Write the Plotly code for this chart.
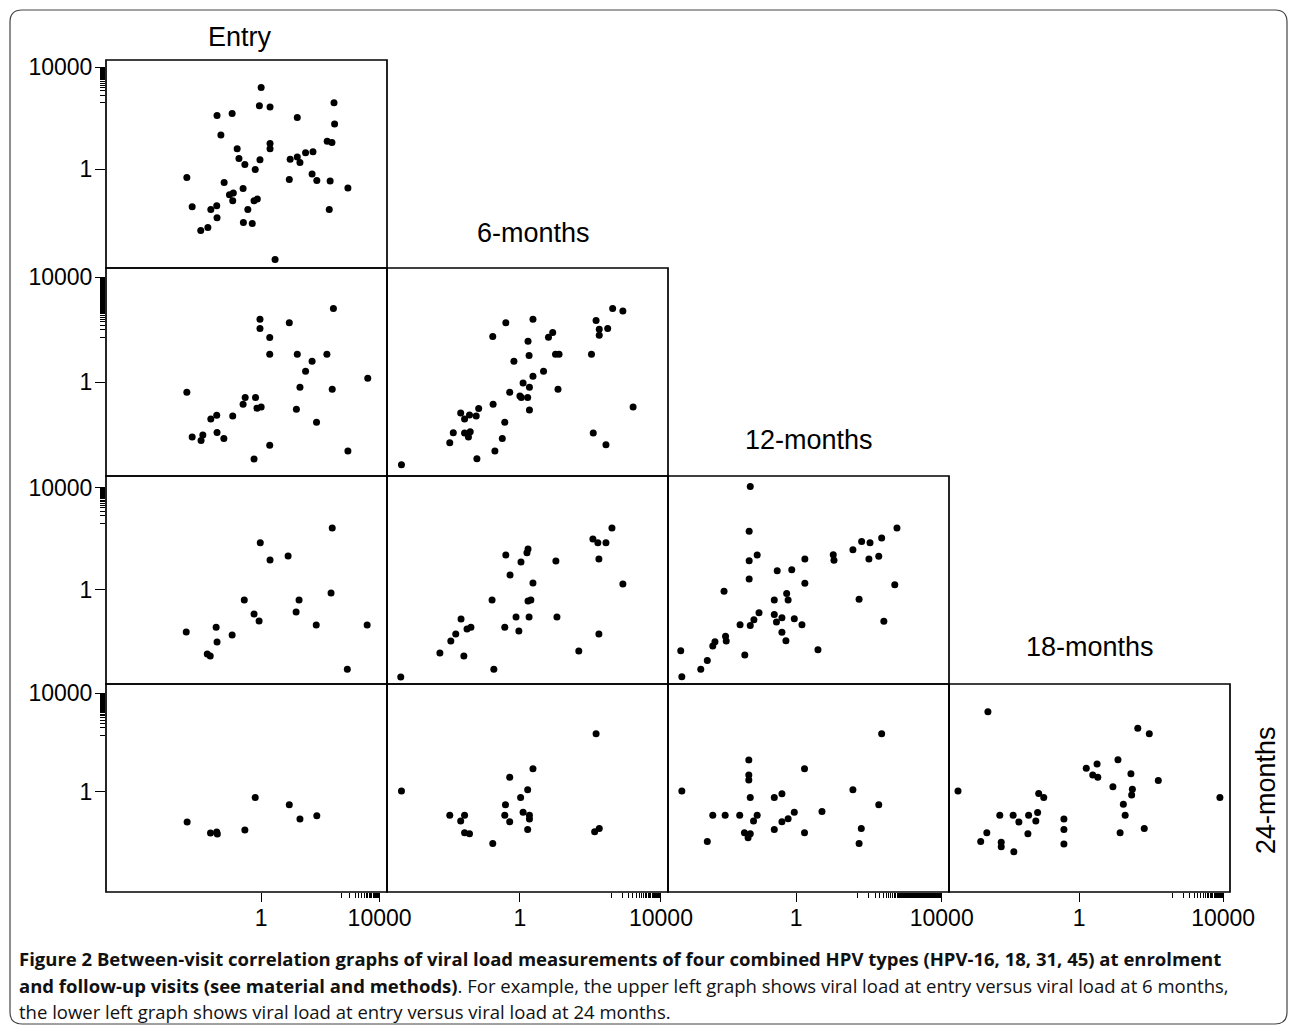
import plotly.graph_objects as go

# ---------------- data (log10 viral load) ----------------
# Each panel: x = earlier visit, y = later visit
entry_6m_x = [-2.51,-2.33,-2.04,-1.80,-1.70,-1.50,-1.49,-1.49,-1.36,-1.25,-1.07,-0.98,-0.94,-0.96,-0.81,-0.75,-0.61,-0.60,-0.55,-0.45,-0.30,-0.24,-0.20,-0.13,-0.04,0.00,-0.06,0.30,0.30,0.30,0.47,0.95,0.98,1.22,1.22,1.31,1.50,1.75,1.72,1.88,2.23,2.39,2.33,2.30,2.46,2.48,2.93]
entry_6m_y = [-0.33,-1.48,-2.42,-2.30,-1.59,-1.44,-1.91,2.11,1.34,-0.53,-1.01,2.19,-0.94,-1.25,0.80,0.42,-0.76,-2.10,0.18,-1.59,-2.14,-1.25,-0.02,-1.18,0.37,3.21,2.49,2.44,1.01,0.80,-3.56,-0.41,0.39,2.03,0.48,0.26,0.64,0.68,-0.19,-0.45,1.09,1.05,-0.47,-1.59,2.61,1.77,-0.74]

entry_12m_x = [-2.51,-2.33,-2.03,-1.97,-1.70,-1.50,-1.49,-1.26,-0.96,-0.61,-0.54,-0.24,-0.19,-0.14,0.00,-0.04,-0.04,0.29,0.29,0.29,0.95,1.22,1.31,1.19,1.50,1.72,1.87,2.22,2.40,2.44,2.93,3.60]
entry_12m_y = [-0.39,-2.10,-2.23,-2.02,-1.41,-1.27,-1.93,-2.16,-1.30,-0.85,-0.59,-2.94,-0.59,-1.00,-0.95,2.40,2.05,1.70,1.06,-2.41,2.27,1.06,-0.20,-1.04,0.41,0.80,-1.54,1.06,-0.27,2.81,-2.63,0.15]

m6_12m_x = [-3.36,-1.99,-1.89,-1.68,-1.57,-1.57,-1.46,-1.41,-1.43,-1.24,-1.17,-1.22,-0.77,-0.76,-0.71,-0.50,-0.43,-0.40,-0.29,-0.17,0.00,0.04,0.09,0.22,0.23,0.26,0.27,0.27,0.37,0.37,0.67,0.81,0.93,1.01,1.11,1.08,2.03,2.08,2.16,2.25,2.25,2.44,2.49,2.63,2.92,3.21]
m6_12m_y = [-3.16,-2.32,-1.94,-1.18,-1.41,-1.95,-2.10,-1.90,-1.26,-1.30,-1.01,-2.93,1.74,-0.85,-2.63,-2.16,-1.54,2.27,-0.39,0.80,-0.53,-0.59,-0.04,-0.59,1.56,1.02,-0.20,-1.07,0.22,2.40,0.41,1.71,1.89,1.06,1.06,-0.27,1.06,-1.95,2.35,2.02,1.79,-2.40,2.05,2.81,2.72,-0.95]

entry_18m_x = [-2.53,-1.82,-1.72,-1.52,-1.49,-0.98,-0.57,-0.24,-0.03,-0.07,0.30,0.91,1.18,1.28,1.86,2.36,2.40,2.91,3.58]
entry_18m_y = [-1.64,-2.50,-2.58,-1.45,-2.03,-1.76,-0.39,-0.94,1.84,-1.21,1.17,1.33,-0.86,-0.39,-1.37,-0.12,2.42,-3.09,-1.37]

m6_18m_x = [-3.38,-2.27,-1.96,-1.82,-1.67,-1.59,-1.50,-1.39,-0.79,-0.74,-0.43,-0.40,-0.28,-0.11,-0.03,0.03,0.20,0.23,0.23,0.26,0.31,0.37,1.02,1.05,1.67,2.07,2.21,2.24,2.24,2.44,2.61,2.92]
m6_18m_y = [-3.40,-2.46,-1.99,-1.72,-1.13,-2.58,-1.52,-1.45,-0.39,-3.09,-1.45,1.37,0.59,-1.05,-1.60,1.09,1.45,1.60,-0.43,-1.05,-0.39,0.27,1.13,-1.05,-2.38,1.99,1.84,1.21,-1.72,1.84,2.42,0.23]

m12_18m_x = [-3.17,-3.14,-2.62,-2.44,-2.29,-2.23,-1.98,-1.94,-1.92,-1.54,-1.41,-1.29,-1.29,-1.29,-1.26,-1.26,-1.16,-1.07,-1.02,-0.60,-0.60,-0.54,-0.52,-0.39,-0.39,-0.28,-0.26,-0.22,-0.12,-0.05,0.16,0.24,0.24,0.60,1.02,1.04,1.56,1.73,1.80,2.00,2.03,2.27,2.35,2.41,2.71,2.77]
m12_18m_y = [-2.37,-3.39,-3.09,-2.75,-2.19,-2.02,-0.05,-1.81,-1.99,-1.36,-2.54,2.29,1.14,0.43,4.04,-1.39,-1.16,1.37,-0.89,-0.39,-0.96,-1.25,0.75,-1.08,-1.65,-1.98,-0.14,-0.39,0.79,-1.12,-1.36,1.21,0.26,-2.33,1.38,1.16,1.57,-0.36,1.89,1.21,1.84,1.32,2.03,-1.22,0.20,2.42]

entry_24m_x = [-2.50,-1.71,-1.50,-1.48,-0.55,-0.20,0.95,1.31,1.88]
entry_24m_y = [-1.23,-1.68,-1.64,-1.72,-1.56,-0.24,-0.53,-1.11,-0.98]

m6_24m_x = [-3.36,-1.99,-1.68,-1.57,-1.57,-1.43,-0.77,-0.43,-0.41,-0.29,-0.29,0.02,0.09,0.22,0.22,0.27,0.27,0.37,2.12,2.16,2.25]
m6_24m_y = [0.03,-0.96,-1.19,-0.96,-1.67,-1.71,-2.11,-0.96,-0.53,0.59,-1.22,-0.24,-0.84,0.08,-1.54,-0.96,-1.11,0.93,-1.63,2.36,-1.50]

m12_24m_x = [-3.14,-2.44,-2.29,-1.95,-1.55,-1.42,-1.32,-1.26,-1.30,-1.30,-1.30,-1.26,-1.17,-1.07,-0.60,-0.60,-0.39,-0.39,-0.22,-0.05,0.23,0.23,0.71,1.56,1.73,1.79,2.27,2.35]
m12_24m_y = [0.03,-2.03,-0.96,-0.96,-0.96,-1.67,-1.87,-1.71,1.29,0.68,0.48,-0.24,-1.19,-0.96,-0.24,-1.54,-0.08,-1.22,-1.10,-0.84,0.93,-1.67,-0.81,0.08,-2.11,-1.50,-0.53,2.36]

m18_24m_x = [-3.36,-2.73,-2.56,-2.53,-2.20,-2.16,-2.16,-1.83,-1.81,-1.67,-1.42,-1.40,-1.20,-1.15,-1.12,-0.98,-0.42,-0.42,-0.42,0.20,0.38,0.50,0.52,0.94,1.08,1.14,1.23,1.28,1.44,1.48,1.46,1.63,1.81,1.95,2.20,3.91]
m18_24m_y = [0.03,-2.03,-1.67,3.25,-0.96,-2.06,-2.24,-0.96,-2.44,-1.23,-1.71,-0.96,-1.19,-0.85,-0.07,-0.24,-1.11,-1.54,-2.13,0.95,0.68,1.13,0.59,0.20,1.30,-1.67,-0.51,-0.96,0.73,0.10,-0.13,2.58,-1.50,2.36,0.46,-0.24]

col_vars = ["Entry", "6-months", "12-months", "18-months"]
row_vars = ["6-months", "12-months", "18-months", "24-months"]
tick_vals = [1, 10000]
tick_text = ["1", "10000"]

# axis ranges in log10 units
x_ranges = {"Entry": [-5.24, 4.25], "6-months": [-3.77, 4.20],
            "12-months": [-3.52, 4.20], "18-months": [-3.61, 4.19]}
y_ranges = {"6-months": [-3.89, 4.29], "12-months": [-3.59, 4.36],
            "18-months": [-3.67, 4.45], "24-months": [-4.08, 4.38]}
minor_step = {"Entry": 500, "6-months": 400, "12-months": 50,
              "18-months": 400, "24-months": 200}

panels = {
    (0, 0): (entry_6m_x, entry_6m_y),
    (1, 0): (entry_12m_x, entry_12m_y),
    (1, 1): (m6_12m_x, m6_12m_y),
    (2, 0): (entry_18m_x, entry_18m_y),
    (2, 1): (m6_18m_x, m6_18m_y),
    (2, 2): (m12_18m_x, m12_18m_y),
    (3, 0): (entry_24m_x, entry_24m_y),
    (3, 1): (m6_24m_x, m6_24m_y),
    (3, 2): (m12_24m_x, m12_24m_y),
    (3, 3): (m18_24m_x, m18_24m_y),
}

AX_FONT = dict(family="Liberation Sans", size=23, color="black")
fig = go.Figure()
layout = {}
shapes = []

for k, ((i, j), (lx, ly)) in enumerate(panels.items(), start=1):
    xs = "" if k == 1 else str(k)
    fig.add_trace(go.Scatter(
        x=[10 ** v for v in lx], y=[10 ** v for v in ly],
        mode="markers", xaxis="x" + xs, yaxis="y" + xs,
        marker=dict(color="black", size=7, symbol="circle"),
        showlegend=False, hoverinfo="x+y"))
    cv, rv = col_vars[j], row_vars[i]
    base = dict(type="log", showline=False, showgrid=False, zeroline=False,
                fixedrange=True, tickfont=AX_FONT)
    xa = dict(base, range=x_ranges[cv], domain=[j / 4, (j + 1) / 4], anchor="y" + xs)
    ya = dict(base, range=y_ranges[rv], domain=[1 - (i + 1) / 4, 1 - i / 4], anchor="x" + xs)
    if i == 3:
        xa.update(tickmode="array", tickvals=tick_vals, ticktext=tick_text,
                  ticks="outside", ticklen=9, tickwidth=1.3, tickcolor="black",
                  showticklabels=True, ticklabelstandoff=-4,
                  minor=dict(tickmode="array",
                             tickvals=list(range(minor_step[cv], 10000, minor_step[cv])),
                             ticks="outside", ticklen=5, tickwidth=1, tickcolor="black"))
    else:
        xa.update(showticklabels=False, ticks="")
    if j == 0:
        ya.update(tickmode="array", tickvals=tick_vals, ticktext=tick_text,
                  ticks="outside", ticklen=10, tickwidth=1.3, tickcolor="black",
                  showticklabels=True, ticklabelstandoff=-2,
                  minor=dict(tickmode="array",
                             tickvals=list(range(minor_step[rv], 10000, minor_step[rv])),
                             ticks="outside", ticklen=5, tickwidth=1, tickcolor="black"))
    else:
        ya.update(showticklabels=False, ticks="")
    layout["xaxis" + xs] = xa
    layout["yaxis" + xs] = ya
    # panel frame
    shapes.append(dict(type="rect", xref=f"x{xs} domain", yref=f"y{xs} domain",
                       x0=0, x1=1, y0=0, y1=1, line=dict(color="black", width=1.7),
                       layer="above"))

fig.update_layout(**layout)

W, H = 1290, 1029
L, R, T, B = 106, 60, 60, 137
PW, PH = W - L - R, H - T - B


def px(x):
    return (x - L) / PW


def py(y):
    return (H - B - y) / PH


TITLE_FONT = dict(family="Liberation Sans", size=27, color="black")
titles = [("Entry", 240, 37, 0), ("6-months", 533, 233, 0), ("12-months", 809, 440, 0),
          ("18-months", 1090, 647, 0), ("24-months", 1266, 790, -90)]
ann = []
for text, x, y, rot in titles:
    ann.append(dict(text=text, x=px(x), y=py(y), xref="paper", yref="paper",
                    xanchor="center", yanchor="middle", showarrow=False,
                    textangle=rot, font=TITLE_FONT))

CAP_FONT = dict(family="Open Sans", size=18.5, color="#111")
caption = [
    "<b>Figure 2 Between-visit correlation graphs of viral load measurements of four combined HPV types (HPV-16, 18, 31, 45) at enrolment</b>",
    "<b>and follow-up visits (see material and methods)</b>. For example, the upper left graph shows viral load at entry versus viral load at 6 months,",
    "the lower left graph shows viral load at entry versus viral load at 24 months.",
]
for line, y in zip(caption, [958, 985, 1011]):
    ann.append(dict(text=line, x=px(17), y=py(y), xref="paper", yref="paper",
                    xanchor="left", yanchor="middle", showarrow=False, font=CAP_FONT))

# rounded outer frame
xl, xr, yt, yb = px(10), px(1287), py(10), py(1024)
rx, ry = 12 / PW, 12 / PH
path = (f"M {xl},{yt - ry} Q {xl},{yt} {xl + rx},{yt} L {xr - rx},{yt} "
        f"Q {xr},{yt} {xr},{yt - ry} L {xr},{yb + ry} Q {xr},{yb} {xr - rx},{yb} "
        f"L {xl + rx},{yb} Q {xl},{yb} {xl},{yb + ry} Z")
shapes.append(dict(type="path", path=path, xref="paper", yref="paper",
                   line=dict(color="#444", width=1.2), layer="below"))

fig.update_layout(
    width=W, height=H, margin=dict(l=L, r=R, t=T, b=B),
    paper_bgcolor="white", plot_bgcolor="white",
    annotations=ann, shapes=shapes, showlegend=False,
)

fig.write_html("out.html", config={"displayModeBar": False},
               post_script="document.body.style.margin='0px';document.body.style.overflow='hidden';")
